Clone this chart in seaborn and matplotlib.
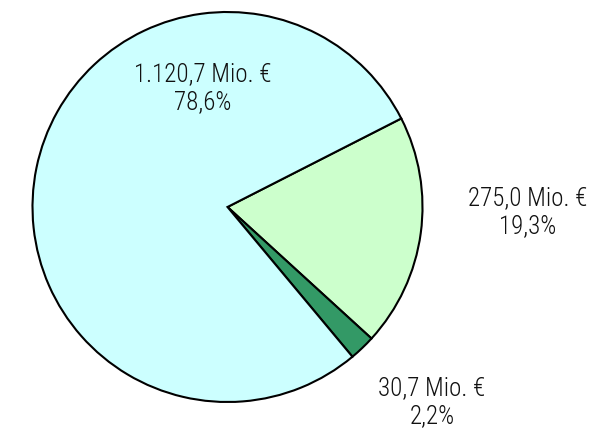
import matplotlib
matplotlib.use("Agg")
import matplotlib.pyplot as plt
import seaborn as sns

sns.set_theme(style="white")
plt.rcParams['font.family'] = ['Liberation Sans Narrow', 'Roboto Condensed', 'Roboto', 'DejaVu Sans']

categories = ["B", "C", "A"]
values = [275.0, 30.7, 1120.7]
value_labels = ["275,0 Mio. €", "30,7 Mio. €", "1.120,7 Mio. €"]
pct_labels = ["19,3%", "2,2%", "78,6%"]
colors = ["#CCFFCC", "#339966", "#CCFFFF"]

W, H, DPI = 592, 432, 100
fig = plt.figure(figsize=(W / DPI, H / DPI), dpi=DPI)
ax = fig.add_axes([0, 0, 1, 1])

cx, cy, R = 227.5, 207.0, 195.0

ax.pie(values, colors=colors, startangle=27, counterclock=False,
       wedgeprops=dict(edgecolor="black", linewidth=1.5))

ax.set_xlim(-cx / R, (W - cx) / R)
ax.set_ylim(-(H - cy) / R, cy / R)
ax.set_aspect("equal")
ax.axis("off")

label_px = {"A": (203, 88), "B": (528, 212), "C": (432, 402)}
for cat, vl, pl in zip(categories, value_labels, pct_labels):
    px, py = label_px[cat]
    ax.text((px - cx) / R, (cy - py) / R, vl + "\n" + pl, ha="center", va="center",
            fontsize=18, fontweight="light", color="#111111", linespacing=1.2)

fig.savefig("out.png", dpi=DPI)
